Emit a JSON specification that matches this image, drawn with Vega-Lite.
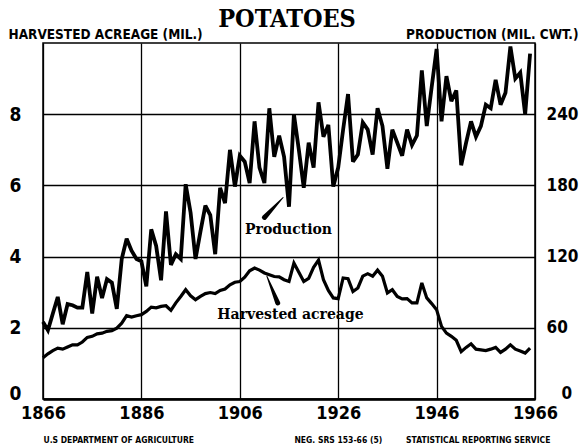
{
  "$schema": "https://vega.github.io/schema/vega-lite/v6.json",
  "width": 492,
  "height": 356,
  "autosize": "none",
  "padding": {"left": 43, "top": 43, "right": 47, "bottom": 46},
  "background": "white",
  "config": {
    "view": {"stroke": "black", "strokeWidth": 1.5},
    "axis": {
      "labelFont": "DejaVu Sans Condensed, DejaVu Sans, sans-serif",
      "labelFontWeight": "bold",
      "labelColor": "black",
      "titleFont": "DejaVu Sans Condensed, DejaVu Sans, sans-serif",
      "titleFontWeight": "bold",
      "titleColor": "black",
      "domain": false,
      "ticks": false,
      "tickSize": 0,
      "gridColor": "black",
      "gridOpacity": 1,
      "gridWidth": 1.3
    }
  },
  "datasets": {
    "potatoes": [
      {"year":1866,"acreage":1.16,"production":65},
      {"year":1867,"acreage":1.27,"production":58},
      {"year":1868,"acreage":1.36,"production":72},
      {"year":1869,"acreage":1.43,"production":86},
      {"year":1870,"acreage":1.40,"production":63},
      {"year":1871,"acreage":1.46,"production":80},
      {"year":1872,"acreage":1.52,"production":79},
      {"year":1873,"acreage":1.52,"production":77},
      {"year":1874,"acreage":1.60,"production":77},
      {"year":1875,"acreage":1.73,"production":107},
      {"year":1876,"acreage":1.76,"production":72},
      {"year":1877,"acreage":1.83,"production":103},
      {"year":1878,"acreage":1.85,"production":85},
      {"year":1879,"acreage":1.90,"production":101},
      {"year":1880,"acreage":1.92,"production":98},
      {"year":1881,"acreage":1.99,"production":76},
      {"year":1882,"acreage":2.13,"production":118},
      {"year":1883,"acreage":2.34,"production":135},
      {"year":1884,"acreage":2.30,"production":125},
      {"year":1885,"acreage":2.34,"production":118},
      {"year":1886,"acreage":2.37,"production":116},
      {"year":1887,"acreage":2.46,"production":95},
      {"year":1888,"acreage":2.58,"production":143},
      {"year":1889,"acreage":2.56,"production":129},
      {"year":1890,"acreage":2.60,"production":100},
      {"year":1891,"acreage":2.62,"production":158},
      {"year":1892,"acreage":2.49,"production":113},
      {"year":1893,"acreage":2.70,"production":122},
      {"year":1894,"acreage":2.88,"production":118},
      {"year":1895,"acreage":3.07,"production":181},
      {"year":1896,"acreage":2.90,"production":157},
      {"year":1897,"acreage":2.79,"production":118},
      {"year":1898,"acreage":2.88,"production":141},
      {"year":1899,"acreage":2.96,"production":163},
      {"year":1900,"acreage":2.99,"production":155},
      {"year":1901,"acreage":2.96,"production":122},
      {"year":1902,"acreage":3.05,"production":178},
      {"year":1903,"acreage":3.09,"production":165},
      {"year":1904,"acreage":3.21,"production":210},
      {"year":1905,"acreage":3.28,"production":179},
      {"year":1906,"acreage":3.30,"production":205},
      {"year":1907,"acreage":3.42,"production":200},
      {"year":1908,"acreage":3.60,"production":182},
      {"year":1909,"acreage":3.68,"production":234},
      {"year":1910,"acreage":3.62,"production":195},
      {"year":1911,"acreage":3.54,"production":182},
      {"year":1912,"acreage":3.49,"production":245},
      {"year":1913,"acreage":3.44,"production":204},
      {"year":1914,"acreage":3.43,"production":222},
      {"year":1915,"acreage":3.35,"production":204},
      {"year":1916,"acreage":3.30,"production":162},
      {"year":1917,"acreage":3.82,"production":240},
      {"year":1918,"acreage":3.56,"production":210},
      {"year":1919,"acreage":3.30,"production":178},
      {"year":1920,"acreage":3.39,"production":216},
      {"year":1921,"acreage":3.70,"production":195},
      {"year":1922,"acreage":3.90,"production":250},
      {"year":1923,"acreage":3.35,"production":221},
      {"year":1924,"acreage":3.05,"production":231},
      {"year":1925,"acreage":2.84,"production":179},
      {"year":1926,"acreage":2.82,"production":195},
      {"year":1927,"acreage":3.40,"production":227},
      {"year":1928,"acreage":3.38,"production":257},
      {"year":1929,"acreage":3.02,"production":200},
      {"year":1930,"acreage":3.12,"production":206},
      {"year":1931,"acreage":3.45,"production":233},
      {"year":1932,"acreage":3.52,"production":227},
      {"year":1933,"acreage":3.45,"production":206},
      {"year":1934,"acreage":3.62,"production":245},
      {"year":1935,"acreage":3.45,"production":230},
      {"year":1936,"acreage":2.98,"production":194},
      {"year":1937,"acreage":3.07,"production":227},
      {"year":1938,"acreage":2.88,"production":216},
      {"year":1939,"acreage":2.81,"production":205},
      {"year":1940,"acreage":2.82,"production":227},
      {"year":1941,"acreage":2.70,"production":214},
      {"year":1942,"acreage":2.70,"production":222},
      {"year":1943,"acreage":3.26,"production":277},
      {"year":1944,"acreage":2.84,"production":230},
      {"year":1945,"acreage":2.68,"production":263},
      {"year":1946,"acreage":2.51,"production":295},
      {"year":1947,"acreage":2.04,"production":234},
      {"year":1948,"acreage":1.85,"production":272},
      {"year":1949,"acreage":1.76,"production":251},
      {"year":1950,"acreage":1.65,"production":260},
      {"year":1951,"acreage":1.33,"production":197},
      {"year":1952,"acreage":1.45,"production":216},
      {"year":1953,"acreage":1.55,"production":234},
      {"year":1954,"acreage":1.40,"production":221},
      {"year":1955,"acreage":1.38,"production":230},
      {"year":1956,"acreage":1.36,"production":248},
      {"year":1957,"acreage":1.40,"production":245},
      {"year":1958,"acreage":1.45,"production":269},
      {"year":1959,"acreage":1.31,"production":248},
      {"year":1960,"acreage":1.40,"production":258},
      {"year":1961,"acreage":1.52,"production":297},
      {"year":1962,"acreage":1.40,"production":270},
      {"year":1963,"acreage":1.35,"production":275},
      {"year":1964,"acreage":1.29,"production":240},
      {"year":1965,"acreage":1.43,"production":291}
    ],
    "title": [
      {"year":1915.6,"value":10.45,"label":"POTATOES"}
    ],
    "labels": [
      {"year":1915.9,"value":4.76,"label":"Production"},
      {"year":1916.3,"value":2.37,"label":"Harvested acreage"}
    ],
    "pointers": [
      {"id":"p","year":1911.0,"value":5.10,"w":5},
      {"id":"p","year":1914.8,"value":5.66,"w":1},
      {"id":"h","year":1911.5,"value":3.45,"w":1},
      {"id":"h","year":1913.7,"value":2.70,"w":5}
    ],
    "footer": [
      {"year":1866.1,"value":-1.23,"label":"U.S DEPARTMENT OF AGRICULTURE"},
      {"year":1917.1,"value":-1.23,"label":"NEG. SRS 153-66 (5)"},
      {"year":1939.8,"value":-1.23,"label":"STATISTICAL REPORTING SERVICE"}
    ]
  },
  "layer": [
    {
      "data": {"name": "potatoes"},
      "mark": {"type": "line", "color": "black", "strokeWidth": 3.2, "strokeMiterLimit": 3},
      "encoding": {
        "x": {
          "field": "year", "type": "quantitative",
          "scale": {"domain": [1866, 1966], "nice": false, "zero": false},
          "axis": {
            "title": null, "values": [1866, 1886, 1906, 1926, 1946, 1966], "format": "d",
            "grid": true, "labelFontSize": 18, "labelPadding": 5, "labelFlush": false,
            "domain": true, "domainColor": "black", "domainWidth": 2.5
          }
        },
        "y": {
          "field": "acreage", "type": "quantitative",
          "scale": {"domain": [0, 10], "nice": false},
          "axis": {
            "title": "HARVESTED ACREAGE (MIL.)", "titleAngle": 0, "titleAlign": "left",
            "titleBaseline": "alphabetic", "titleX": -35, "titleY": -5, "titleFontSize": 13.5,
            "values": [0, 2, 4, 6, 8], "grid": true, "labelFontSize": 19,
            "labelPadding": 22,
            "labelOffset": {"condition": {"test": "datum.value === 0", "value": -6}, "value": 0}
          }
        }
      }
    },
    {
      "data": {"name": "potatoes"},
      "mark": {"type": "line", "color": "black", "strokeWidth": 3.8, "strokeMiterLimit": 3},
      "encoding": {
        "x": {"field": "year", "type": "quantitative", "scale": {"domain": [1866, 1966], "nice": false, "zero": false}},
        "y": {
          "field": "production", "type": "quantitative",
          "scale": {"domain": [0, 300], "nice": false},
          "axis": {
            "orient": "right",
            "title": "PRODUCTION (MIL. CWT.)", "titleAngle": 0, "titleAlign": "right",
            "titleBaseline": "alphabetic", "titleX": 43, "titleY": -5, "titleFontSize": 13.5,
            "values": [0, 60, 120, 180, 240], "grid": false, "labelFontSize": 17,
            "labelAlign": "left",
            "labelPadding": {"condition": {"test": "datum.value === 0", "value": 26}, "value": 11},
            "labelOffset": {"condition": {"test": "datum.value === 0", "value": -6}, "value": 0}
          }
        }
      }
    },
    {
      "data": {"name": "pointers"},
      "mark": {"type": "trail", "color": "black"},
      "encoding": {
        "x": {"field": "year", "type": "quantitative", "scale": {"domain": [1866, 1966], "nice": false, "zero": false}},
        "y": {"field": "value", "type": "quantitative", "scale": {"domain": [0, 10], "nice": false}, "axis": null},
        "size": {"field": "w", "type": "quantitative", "scale": null, "legend": null},
        "detail": {"field": "id"}
      }
    },
    {
      "data": {"name": "labels"},
      "mark": {"type": "text", "font": "DejaVu Serif", "fontWeight": "bold", "fontSize": 14, "color": "black", "align": "center", "baseline": "middle"},
      "encoding": {
        "x": {"field": "year", "type": "quantitative", "scale": {"domain": [1866, 1966], "nice": false, "zero": false}},
        "y": {"field": "value", "type": "quantitative", "scale": {"domain": [0, 10], "nice": false}, "axis": null},
        "text": {"field": "label"}
      }
    },
    {
      "data": {"name": "title"},
      "mark": {"type": "text", "font": "DejaVu Serif Condensed, DejaVu Serif, serif", "fontWeight": "bold", "fontSize": 25, "color": "black", "align": "center", "baseline": "alphabetic"},
      "encoding": {
        "x": {"field": "year", "type": "quantitative", "scale": {"domain": [1866, 1966], "nice": false, "zero": false}},
        "y": {"field": "value", "type": "quantitative", "scale": {"domain": [0, 10], "nice": false}, "axis": null},
        "text": {"field": "label"}
      }
    },
    {
      "data": {"name": "footer"},
      "mark": {"type": "text", "font": "DejaVu Sans Condensed, DejaVu Sans, sans-serif", "fontWeight": "bold", "fontSize": 8.5, "color": "black", "align": "left", "baseline": "alphabetic"},
      "encoding": {
        "x": {"field": "year", "type": "quantitative", "scale": {"domain": [1866, 1966], "nice": false, "zero": false}},
        "y": {"field": "value", "type": "quantitative", "scale": {"domain": [0, 10], "nice": false}, "axis": null},
        "text": {"field": "label"}
      }
    }
  ],
  "resolve": {"scale": {"y": "independent"}, "axis": {"y": "independent"}}
}
